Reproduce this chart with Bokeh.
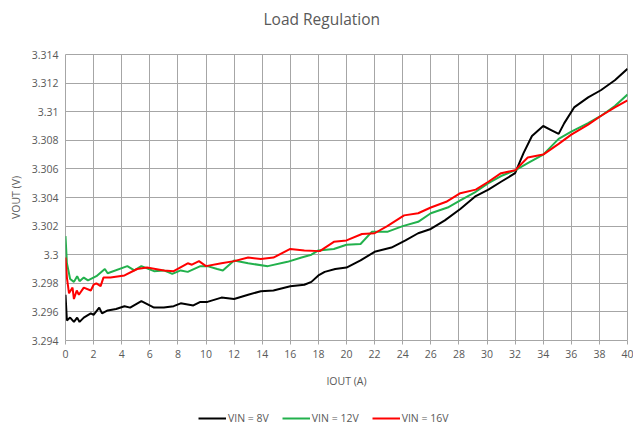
from bokeh.plotting import figure
from bokeh.models import FixedTicker, Legend, LegendItem
from bokeh.layouts import column
from bokeh.embed import file_html
from bokeh.resources import INLINE

# ---- data ----
x_8v = [0, 0.1, 0.33, 0.6, 0.83, 1.0, 1.3, 1.8, 2.0, 2.4, 2.6, 3.0, 3.6, 4.2, 4.6, 5.4, 6.3, 7.0, 7.7, 8.2,
        9.1, 9.6, 10.1, 11.1, 12.0, 13.0, 13.9, 14.8, 16.0, 17.0, 17.5, 18.0, 18.45, 19.2, 20, 21, 22, 23.2,
        24.2, 25.1, 26, 27, 28.1, 29.2, 30.1, 31, 32, 32.6, 33.2, 34, 34.6, 35.1, 35.5, 36.2, 37.2, 38.1, 39.1, 40]
y_8v = [3.2972, 3.2954, 3.2956, 3.2953, 3.2956, 3.2953, 3.2956, 3.2959, 3.2958, 3.2963, 3.2959, 3.2961,
        3.2962, 3.2964, 3.2963, 3.29675, 3.2963, 3.2963, 3.2964, 3.2966, 3.29645, 3.2967, 3.2967, 3.2970,
        3.2969, 3.2972, 3.29745, 3.2975, 3.2978, 3.2979, 3.2981, 3.29855, 3.2988, 3.2990, 3.2991, 3.2996,
        3.3002, 3.3005, 3.3010, 3.3015, 3.3018, 3.3024, 3.3032, 3.3041, 3.30455, 3.3051, 3.3057, 3.3071,
        3.3083, 3.3090, 3.3087, 3.30845, 3.3092, 3.3103, 3.3110, 3.3115, 3.3122, 3.3130]

x_12v = [0, 0.1, 0.33, 0.6, 0.83, 1.0, 1.3, 1.6, 2.2, 2.8, 3.0, 4.4, 4.9, 5.4, 6.3, 7.0, 7.6, 8.2, 8.7, 9.6,
         10.1, 10.8, 11.2, 12.0, 13.0, 14.4, 15.8, 16.8, 17.5, 18.0, 19.1, 20, 21, 21.8, 22.9, 24, 25.1, 26,
         27.2, 28.1, 29.2, 30.1, 31, 32, 32.9, 34, 35.1, 36, 37.2, 38.1, 39.1, 40]
y_12v = [3.3013, 3.2994, 3.2983, 3.2981, 3.2985, 3.29815, 3.2984, 3.2982, 3.2985, 3.2990, 3.2987, 3.2992,
         3.2989, 3.2992, 3.29885, 3.2989, 3.29866, 3.2989, 3.2988, 3.2992, 3.2992, 3.2990, 3.2989, 3.2996,
         3.2994, 3.2992, 3.2995, 3.2998, 3.3000, 3.3003, 3.3004, 3.3007, 3.30075, 3.3016, 3.3016, 3.3020,
         3.3023, 3.3029, 3.3033, 3.3038, 3.3044, 3.3050, 3.3055, 3.3059, 3.3064, 3.3070, 3.3081, 3.3086,
         3.3092, 3.3097, 3.3104, 3.3112]

x_16v = [0, 0.1, 0.25, 0.5, 0.6, 0.8, 0.95, 1.3, 1.8, 2.0, 2.2, 2.5, 2.7, 3.2, 4.2, 5.1, 5.8, 7.0, 7.7, 8.7,
         9.0, 9.5, 10.0, 11.1, 12.0, 13.0, 13.9, 14.8, 16.0, 17.0, 18.1, 19.1, 20, 21.1, 22, 22.9, 24.1, 25.1,
         26, 27.1, 28.1, 29.2, 30.1, 31, 32, 32.9, 34, 35.1, 36, 37.2, 38.1, 39.1, 40]
y_16v = [3.2998, 3.2984, 3.2973, 3.2977, 3.2969, 3.2975, 3.2972, 3.2977, 3.2975, 3.2979, 3.2980, 3.2978,
         3.2984, 3.2984, 3.29855, 3.2990, 3.2991, 3.2989, 3.29885, 3.2994, 3.2993, 3.29955, 3.2992, 3.2994,
         3.29955, 3.2998, 3.2997, 3.2998, 3.3004, 3.3003, 3.30025, 3.3009, 3.3010, 3.30145, 3.3015, 3.3020,
         3.30275, 3.3029, 3.3033, 3.3037, 3.3043, 3.30455, 3.3051, 3.3057, 3.3059, 3.3068, 3.3070, 3.30775,
         3.3084, 3.3091, 3.3097, 3.3103, 3.3108]

series_names = ["VIN = 8V", "VIN = 12V", "VIN = 16V"]
series_colors = ["#000000", "#22b14c", "#ff0000"]

x_ticks = list(range(0, 41, 2))
y_ticks = [3.294, 3.296, 3.298, 3.300, 3.302, 3.304, 3.306, 3.308, 3.310, 3.312, 3.314]
y_tick_labels = ["3.294", "3.296", "3.298", "3.3", "3.302", "3.304", "3.306", "3.308", "3.31", "3.312", "3.314"]

FONT = "Open Sans"
GREY = "#595959"
GRID = "#a6a6a6"

series = [(x_8v, y_8v), (x_12v, y_12v), (x_16v, y_16v)]

# ---- title strip ----
tf = figure(width=633, height=46, output_backend="svg", toolbar_location=None,
            x_range=(0, 1), y_range=(0, 1), title="Load Regulation",
            min_border_left=65, min_border_right=6, min_border_top=0, min_border_bottom=0,
            x_axis_type=None, y_axis_type=None)
tf.outline_line_color = None
tf.xgrid.visible = False
tf.ygrid.visible = False
tf.title.align = "left"
tf.title.offset = 198
tf.title.vertical_align = "bottom"
tf.title.standoff = 10
tf.title.text_font = FONT
tf.title.text_font_size = "15.5px"
tf.title.text_font_style = "normal"
tf.title.text_color = GREY

# ---- main chart ----
p = figure(width=633, height=354, output_backend="svg", toolbar_location=None,
           x_range=(0, 40), y_range=(3.294, 3.314),
           min_border_left=65, min_border_right=6, min_border_top=8, min_border_bottom=60)

p.outline_line_color = GRID
p.background_fill_color = "white"

p.xaxis.ticker = FixedTicker(ticks=x_ticks)
p.yaxis.ticker = FixedTicker(ticks=y_ticks)
p.yaxis.major_label_overrides = {t: s for t, s in zip(y_ticks, y_tick_labels)}
p.xaxis.major_label_overrides = {t: str(t) for t in x_ticks}

for ax in (p.xaxis, p.yaxis):
    ax.axis_line_color = None
    ax.major_tick_in = 0
    ax.minor_tick_line_color = None
    ax.major_label_text_font = FONT
    ax.major_label_text_font_size = "10.5px"
    ax.major_label_text_color = GREY
    ax.axis_label_text_font = FONT
    ax.axis_label_text_font_size = "10.5px"
    ax.axis_label_text_font_style = "normal"
    ax.axis_label_text_color = GREY

p.xaxis.major_tick_out = 4
p.xaxis.major_tick_line_color = GRID
p.yaxis.major_tick_out = 0
p.xaxis.major_label_standoff = 5
p.yaxis.major_label_standoff = 7
p.xaxis.axis_label = "IOUT (A)"
p.yaxis.axis_label = "VOUT (V)"
p.xaxis.axis_label_standoff = 13
p.yaxis.axis_label_standoff = 6

p.xgrid.grid_line_color = GRID
p.ygrid.grid_line_color = GRID
p.xgrid.grid_line_width = 1
p.ygrid.grid_line_width = 1

for (xs, ys), col in zip(series, series_colors):
    p.line(xs, ys, line_color=col, line_width=2)

# ---- legend strip below the chart: same series, drawn outside this strip's view ----
lg = figure(width=633, height=28, output_backend="svg", toolbar_location=None,
            x_range=(-2, -1), y_range=(-2, -1),
            min_border_left=65, min_border_right=6, min_border_top=0, min_border_bottom=0,
            x_axis_type=None, y_axis_type=None)
lg.outline_line_color = None
lg.xgrid.visible = False
lg.ygrid.visible = False
items = []
for (xs, ys), name, col in zip(series, series_names, series_colors):
    r = lg.line(xs, ys, line_color=col, line_width=2)
    items.append(LegendItem(label=name, renderers=[r]))
legend = Legend(items=items, orientation="horizontal", location=(133, 3),
                border_line_color=None, background_fill_alpha=0,
                label_text_font=FONT, label_text_font_size="10.5px", label_text_color=GREY,
                glyph_width=28, glyph_height=12, label_standoff=2, spacing=13,
                padding=2, margin=0)
lg.add_layout(legend, "center")

open("out.html", "w").write(file_html(column(tf, p, lg, spacing=0), INLINE))
